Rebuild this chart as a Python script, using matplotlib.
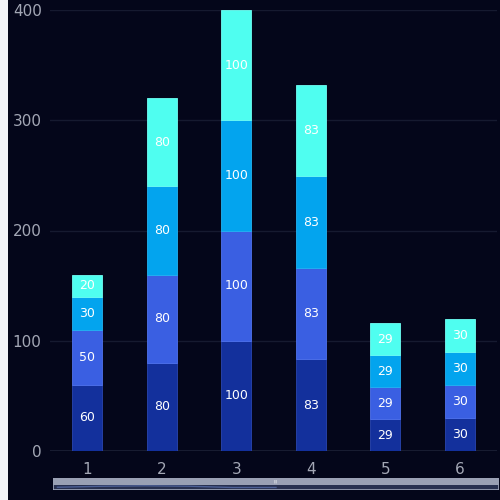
import numpy as np
import matplotlib
matplotlib.use('Agg')
import matplotlib.pyplot as plt
from matplotlib.patches import Rectangle

# categories and stacked series (bottom to top)
categories = ['1', '2', '3', '4', '5', '6']
series_1 = [60, 80, 100, 83, 29, 30]
series_2 = [50, 80, 100, 83, 29, 30]
series_3 = [30, 80, 100, 83, 29, 30]
series_4 = [20, 80, 100, 83, 29, 30]
y_ticks = [0, 100, 200, 300, 400]

colors = ['#13309c', '#3a5fe2', '#03a4ee', '#4ffef0']
edges = ['#2a45b0', '#4f72ee', '#22b4f4', '#6ffff4']
bg = '#04061a'

fig = plt.figure(figsize=(5, 5), dpi=100)
fig.patch.set_facecolor(bg)
# light strip at the left edge
fig.patches.append(Rectangle((0, 0), 0.016, 1, transform=fig.transFigure,
                             facecolor='#f3f4f8', edgecolor='none', zorder=0))

ax = fig.add_axes([0.1, 0.098, 0.894, 0.882])
ax.set_facecolor(bg)

x = np.arange(len(categories))
bottom = np.zeros(len(categories))
for vals, c, ec in zip([series_1, series_2, series_3, series_4], colors, edges):
    bars = ax.bar(x, vals, width=0.4, bottom=bottom, color=c,
                  edgecolor=ec, linewidth=0.6, zorder=3)
    for xi, b, v in zip(x, bottom, vals):
        ax.text(xi, b + v / 2, str(v), ha='center', va='center',
                color='white', fontsize=9, zorder=4)
    bottom += np.array(vals)

ax.set_xlim(-0.5, len(categories) - 0.5)
ax.set_ylim(0, 400)
ax.set_yticks(y_ticks)
ax.set_xticks(x)
ax.set_xticklabels(categories)
ax.grid(axis='y', color='#161a30', linewidth=1, zorder=0)
ax.tick_params(colors='#a3a7b5', labelsize=11, length=0, pad=8)
ax.tick_params(axis='y', pad=6)
for s in ax.spines.values():
    s.set_visible(False)
ax.axhline(0, color='#1c2036', linewidth=1.2, zorder=2)

# data zoom slider at the bottom
sl = fig.add_axes([0.106, 0.02, 0.892, 0.024])
sl.set_xlim(0, 1)
sl.set_ylim(0, 1)
sl.axis('off')
sl.add_patch(Rectangle((0, 0), 1, 1, facecolor='#283050',
                       edgecolor='#a0a6ba', linewidth=1.2))
sl.add_patch(Rectangle((0, 0.45), 1, 0.55, facecolor='#9aa0b4', edgecolor='none'))
totals = bottom / bottom.max()
sx = np.linspace(0.01, 0.5, len(categories))
sl.plot(sx, 0.15 + 0.2 * totals, color='#4d5f95', linewidth=1)
sl.text(0.5, 0.7, '|||', ha='center', va='center', color='white', fontsize=3)

fig.savefig('out.png', dpi=100, facecolor=bg)
